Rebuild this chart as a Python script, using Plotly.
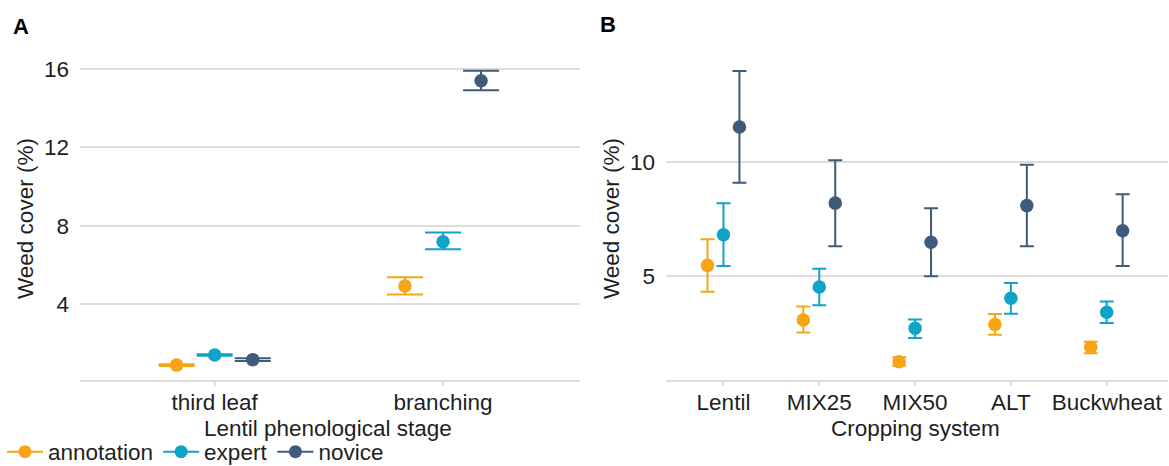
import plotly.graph_objects as go

# ---------------- data ----------------
stages = ["third leaf", "branching"]
systems = ["Lentil", "MIX25", "MIX50", "ALT", "Buckwheat"]
groups = ["annotation", "expert", "novice"]

# Panel A: weed cover by lentil phenological stage
a_annotation_mean = [0.88, 4.92]
a_annotation_lo = [0.84, 4.49]
a_annotation_hi = [0.92, 5.37]
a_expert_mean = [1.40, 7.18]
a_expert_lo = [1.36, 6.79]
a_expert_hi = [1.44, 7.65]
a_novice_mean = [1.16, 15.40]
a_novice_lo = [1.09, 14.91]
a_novice_hi = [1.23, 15.91]

# Panel B: weed cover by cropping system
b_annotation_mean = [5.48, 3.08, 1.25, 2.89, 1.89]
b_annotation_lo = [4.32, 2.53, 1.08, 2.44, 1.62]
b_annotation_hi = [6.62, 3.68, 1.45, 3.35, 2.13]
b_expert_mean = [6.82, 4.53, 2.72, 4.04, 3.42]
b_expert_lo = [5.45, 3.73, 2.29, 3.36, 2.95]
b_expert_hi = [8.20, 5.33, 3.11, 4.71, 3.90]
b_novice_mean = [11.55, 8.21, 6.49, 8.10, 7.00]
b_novice_lo = [9.10, 6.32, 5.00, 6.32, 5.45]
b_novice_hi = [14.00, 10.09, 7.98, 9.89, 8.60]

a_yticks = [4, 8, 12, 16]
b_yticks = [5, 10]

# ---------------- style ----------------
colors = {"annotation": "#F8A515", "expert": "#10A3C8", "novice": "#3E5B7A"}
FONT = "Liberation Sans, Arial, sans-serif"
FS = 22.5
TXT = "#1e1e1e"
GRID = "#DCDCDC"
dodge = 0.5 / 3  # position_dodge(width = 0.5)

A = {
    "annotation": (a_annotation_mean, a_annotation_lo, a_annotation_hi),
    "expert": (a_expert_mean, a_expert_lo, a_expert_hi),
    "novice": (a_novice_mean, a_novice_lo, a_novice_hi),
}
B = {
    "annotation": (b_annotation_mean, b_annotation_lo, b_annotation_hi),
    "expert": (b_expert_mean, b_expert_lo, b_expert_hi),
    "novice": (b_novice_mean, b_novice_lo, b_novice_hi),
}

W, H = 1169, 466


def px(x):
    return x / W


def py(y):
    return (H - y) / H


fig = go.Figure()


def add_panel(data, cats, xa, ya, capw):
    for gi, g in enumerate(groups):
        mean, lo, hi = data[g]
        xs = [i + 1 + (gi - 1) * dodge for i in range(len(cats))]
        fig.add_trace(go.Scatter(
            x=xs, y=mean, mode="markers", name=g, showlegend=False,
            xaxis=xa, yaxis=ya,
            marker=dict(color=colors[g], size=13.5),
            error_y=dict(type="data", symmetric=False,
                         array=[h - m for h, m in zip(hi, mean)],
                         arrayminus=[m - l for m, l in zip(mean, lo)],
                         color=colors[g], thickness=2, width=capw),
        ))


add_panel(A, stages, "x", "y", 18)
add_panel(B, systems, "x2", "y2", 7)

# legend entries (point + errorbar key look)
for g in groups:
    fig.add_trace(go.Scatter(
        x=[None], y=[None], mode="lines+markers", name=g,
        line=dict(color=colors[g], width=2),
        marker=dict(color=colors[g], size=13),
        xaxis="x", yaxis="y",
    ))

ydom = [py(380), py(55)]

axis_common = dict(showgrid=False, zeroline=False, showline=True,
                   linecolor=GRID, linewidth=1.5, ticks="outside",
                   ticklen=4, tickcolor=GRID, tickwidth=1.5,
                   ticklabelstandoff=-3,
                   tickfont=dict(family=FONT, size=FS, color=TXT))
yaxis_common = dict(showgrid=True, gridcolor=GRID, gridwidth=1.5,
                    zeroline=False, showline=False, ticks="",
                    ticklabelstandoff=10,
                    tickfont=dict(family=FONT, size=FS, color=TXT))


def ann(text, x, y, size=FS, angle=0, color=TXT):
    return dict(text=text, x=px(x), y=py(y), xref="paper", yref="paper",
                xanchor="center", yanchor="middle", textangle=angle,
                showarrow=False, font=dict(family=FONT, size=size, color=color))


fig.update_layout(
    width=W, height=H,
    margin=dict(l=0, r=0, t=0, b=0, autoexpand=False),
    paper_bgcolor="white", plot_bgcolor="white",
    font=dict(family=FONT, size=FS, color=TXT),
    xaxis=dict(domain=[px(80), px(580)], range=[0.41, 2.6],
               tickvals=[1, 2], ticktext=stages, anchor="y", **axis_common),
    yaxis=dict(domain=ydom, range=[0.12, 16.715], tickvals=a_yticks,
               anchor="x", **yaxis_common),
    xaxis2=dict(domain=[px(666), px(1168)], range=[0.4, 5.64],
                tickvals=[1, 2, 3, 4, 5], ticktext=systems, anchor="y2",
                **axis_common),
    yaxis2=dict(domain=ydom, range=[0.452, 14.706], tickvals=b_yticks,
                anchor="x2", **yaxis_common),
    showlegend=True,
    legend=dict(orientation="h", x=px(2), xanchor="left", y=py(452),
                yanchor="middle", font=dict(family=FONT, size=FS, color=TXT),
                bgcolor="rgba(0,0,0,0)", itemwidth=36, tracegroupgap=0),
    annotations=[
        ann("<b>A</b>", 21, 26, size=22, color="#000"),
        ann("<b>B</b>", 608, 25, size=22, color="#000"),
        ann("Weed cover (%)", 26, 219, angle=-90),
        ann("Weed cover (%)", 612, 219, angle=-90),
        ann("Lentil phenological stage", 328, 428),
        ann("Cropping system", 915, 428),
    ],
)

fig.write_html(
    "out.html",
    config={"displayModeBar": False},
    post_script="document.body.style.margin='0';document.body.style.overflow='hidden';",
)
